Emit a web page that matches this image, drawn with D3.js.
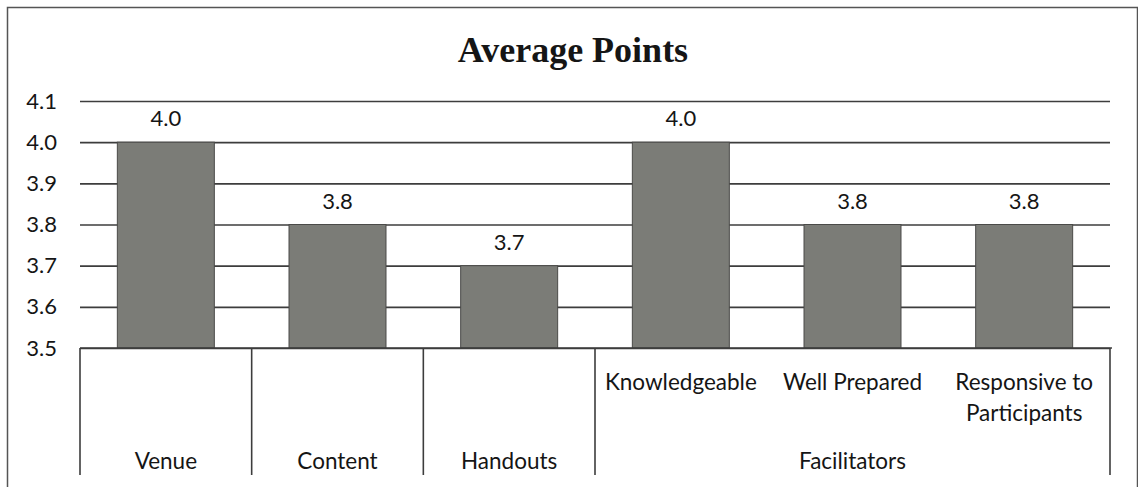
<!DOCTYPE html>
<html>
<head>
<meta charset="utf-8">
<script src="https://cdn.jsdelivr.net/npm/d3@7"></script>
<style>
  body { margin: 0; background: #fff; }
  text { font-family: Lato, "Open Sans", sans-serif; fill: #151515; }
</style>
</head>
<body>
<div id="chart"></div>
<script>
// data
const groupLabels = ["Venue", "Content", "Handouts", "Facilitators", "Facilitators", "Facilitators"];
const subLabels = ["", "", "", "Knowledgeable", "Well Prepared", "Responsive to\nParticipants"];
const values = [4.0, 3.8, 3.7, 4.0, 3.8, 3.8];
const yTicks = [3.5, 3.6, 3.7, 3.8, 3.9, 4.0, 4.1];
const title = "Average Points";

let width = 1138;
let height = 487;
let margin = { top: 101, bottom: 139, left: 80, right: 28 };

let svg = d3.select('#chart')
    .append('svg')
        .attr('width', width)
        .attr('height', height);

// outer chart border
svg.append('rect')
    .attr('x', 7.5).attr('y', 7.5)
    .attr('width', 1130).attr('height', 500)
    .attr('fill', '#fff')
    .attr('stroke', '#555')
    .attr('stroke-width', 1.5);

svg.append('text')
    .attr('x', 573)
    .attr('y', 62)
    .attr('text-anchor', 'middle')
    .style('font-family', '"Liberation Serif", "Times New Roman", serif')
    .style('font-weight', 'bold')
    .style('font-size', '36px')
    .text(title);

let idx = d3.range(values.length);

let xScale = d3.scaleBand()
    .domain(idx)
    .range([margin.left, width - margin.right])
    .paddingInner(0.435)
    .paddingOuter(0.2175);

let cellScale = d3.scaleBand()
    .domain(idx)
    .range([margin.left, width - margin.right]);

let yScale = d3.scaleLinear()
    .domain([3.5, 4.1])
    .range([height - margin.bottom, margin.top]);

// gridlines
let grid = svg.append('g')
    .attr('transform', 'translate(' + margin.left + ',0)')
    .call(d3.axisLeft(yScale)
        .tickValues(yTicks)
        .tickSize(-(width - margin.left - margin.right))
        .tickFormat(''));
grid.select('.domain').remove();
grid.selectAll('line').attr('stroke', '#3d3d3d').attr('stroke-width', 1.6);

// y labels
let yAxis = svg.append('g')
    .attr('transform', 'translate(57,0)')
    .call(d3.axisLeft(yScale)
        .tickValues(yTicks)
        .tickSize(0)
        .tickFormat(d3.format('.1f')));
yAxis.select('.domain').remove();
yAxis.selectAll('text')
    .attr('x', 0)
    .style('font-family', 'Lato, sans-serif')
    .style('font-size', '22px')
    .attr('fill', '#151515');

// bars
svg.selectAll('.bar')
    .data(values)
    .enter()
    .append('rect')
        .attr('class', 'bar')
        .attr('x', (d, i) => xScale(i))
        .attr('y', d => yScale(d))
        .attr('width', xScale.bandwidth())
        .attr('height', d => yScale(3.5) - yScale(d))
        .attr('fill', '#7b7c77')
        .attr('stroke', '#4a4a48')
        .attr('stroke-width', 1);

// value labels
svg.selectAll('.val')
    .data(values)
    .enter()
    .append('text')
        .attr('class', 'val')
        .attr('x', (d, i) => xScale(i) + xScale.bandwidth() / 2)
        .attr('y', d => yScale(d) - 16)
        .attr('text-anchor', 'middle')
        .style('font-size', '22px')
        .text(d => d3.format('.1f')(d));

// category table
let base = yScale(3.5);
let bottom = 475;
let table = svg.append('g').attr('stroke', '#3d3d3d').attr('stroke-width', 1.6);
table.append('line')
    .attr('x1', margin.left).attr('x2', width - margin.right + 2)
    .attr('y1', base).attr('y2', base);

// vertical dividers where the group label changes
let edges = [margin.left];
idx.forEach(i => {
    if (i === idx.length - 1 || groupLabels[i] !== groupLabels[i + 1]) {
        edges.push(cellScale(i) + cellScale.bandwidth());
    }
});
table.selectAll('.div')
    .data(edges)
    .enter()
    .append('line')
        .attr('x1', d => d).attr('x2', d => d)
        .attr('y1', base).attr('y2', bottom);

// inner labels
svg.selectAll('.sub')
    .data(subLabels)
    .enter()
    .append('text')
        .attr('class', 'sub')
        .attr('text-anchor', 'middle')
        .style('font-size', '22.5px')
        .each(function (d, i) {
            let lines = d.split('\n');
            d3.select(this).selectAll('tspan')
                .data(lines)
                .enter()
                .append('tspan')
                    .attr('x', cellScale(i) + cellScale.bandwidth() / 2)
                    .attr('y', (l, j) => 390 + j * 31)
                    .text(l => l);
        });

// group labels
let groups = [];
groupLabels.forEach((g, i) => {
    let last = groups[groups.length - 1];
    if (last && last.name === g) last.end = i;
    else groups.push({ name: g, start: i, end: i });
});
svg.selectAll('.grp')
    .data(groups)
    .enter()
    .append('text')
        .attr('class', 'grp')
        .attr('x', d => (cellScale(d.start) + cellScale(d.end) + cellScale.bandwidth()) / 2)
        .attr('y', 469)
        .attr('text-anchor', 'middle')
        .style('font-size', '22.5px')
        .text(d => d.name);
</script>
</body>
</html>
